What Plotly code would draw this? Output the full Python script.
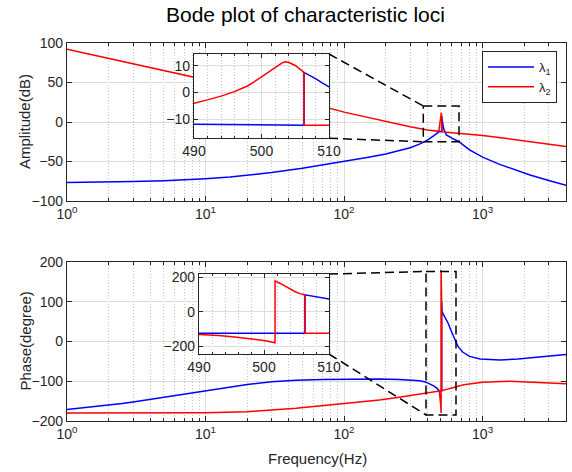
import plotly.graph_objects as go
import math

# ---------------- data ----------------
# Magnitude (dB)
mag_f1 = [1, 1.5, 2, 3, 5, 7, 10, 15, 20, 30, 50, 70, 100, 150, 200, 250, 300, 350, 400, 440, 465, 478, 484,
          490, 495, 500, 504, 506.3, 506.3, 507, 508, 509, 510, 515, 520, 530, 548, 600, 675, 800, 1000,
          1300, 1700, 2200, 3000, 4000]
mag_l1 = [-76.5, -76.3, -76, -75.4, -74.3, -73.2, -71.7, -69.5, -67.5, -64, -58.5, -54.5, -49.5, -44.5, -40.5,
          -36.5, -32.5, -28, -23, -18, -14.5, -12.5, -11.8,
          -11.9, -12.0, -12.1, -12.2, -12.3, 7.5, 6.6, 5.2, 3.6, 2.1, -2.5, -6, -11, -16.4, -20.5, -25, -35, -44.5,
          -53, -60.5, -67, -74, -80]

mag_f2 = [1, 2, 3, 5, 10, 20, 30, 50, 100, 150, 200, 300, 400, 450, 478, 484, 486, 488, 490, 492, 494, 496, 498,
          500, 501, 502, 503, 503.5, 504, 505, 506, 506.3, 506.3, 510, 550, 700, 1000, 1500, 2000, 3000, 4000]
mag_l2 = [92, 80.5, 74, 65.5, 54, 42, 35.5, 26.5, 12.5, 5.5, 0.5, -6, -10, -11.2, -11.7, -11.8, -7.3, -5.7, -4.1,
          -2.8, -1.4, 0.3, 2.5, 5.8, 7.6, 9.5, 11, 11.5, 11.3, 10.1, 8.3, 7.5, -12.3, -12.5, -13, -14.5, -17,
          -21, -24, -28, -31]

# Phase (degree)
ph_f1 = [1, 1.5, 2, 2.5, 3, 4, 5, 6.5, 8, 10, 15, 20, 30, 45, 70, 100, 180, 250, 315, 350, 380, 400, 440, 470,
         486, 490, 495, 500, 504, 506.3, 506.3, 507, 508, 509, 510, 520, 533, 564, 596, 630, 665, 718, 805, 961,
         1330, 1800, 2310, 3000, 4000]
ph_l1 = [-171, -165, -160, -156, -152, -145.5, -140, -133, -128, -123, -114, -108, -101.5, -97.5, -95.5,
         -94.5, -94.5, -95.5, -97, -99, -101.5, -104, -111, -118,
         -124.3, -124.2, -124.1, -124, -124, -123.9, 99, 94.5, 88, 81, 75, 69, 62, 46, 25, 4, -12.5, -26.5, -37.5,
         -44, -46.5, -44, -40, -36.5, -33]

ph_f2 = [1, 3, 5, 10, 20, 45, 100, 180, 250, 395, 450, 486, 488, 490, 493, 495.5, 498, 500.2, 501.7, 501.7,
         502.5, 503.3, 504, 504.8, 505.5, 506.3, 506.3, 510, 540, 600, 730, 1000, 1560, 2310, 3000, 4000]
ph_l2 = [-180, -180, -179.5, -179, -176.5, -168, -156, -147, -140, -130.5, -127, -124.5, -128, -132, -138, -146,
         -158, -168, -180, 180, 165, 148, 132, 117, 106, 99, -124, -123.8, -121, -117, -109, -102.5, -100,
         -102.5, -104.5, -106]

series_names = ["λ<sub>1</sub>", "λ<sub>2</sub>"]
x_tickvals = [1, 10, 100, 1000]
x_ticktext = ["10<sup>0</sup>", "10<sup>1</sup>", "10<sup>2</sup>", "10<sup>3</sup>"]
x_minor = [m * d for d in (1, 10, 100, 1000) for m in range(2, 10) if m * d <= 4000]

# ---------------- styling ----------------
BLUE, RED = "#0000FF", "#FF0000"
AX = "#262626"
GRID = "#dedede"
MGRID = "#c4c4c4"
FONT = "Liberation Sans, Arial, sans-serif"
LW = 1.5

fig = go.Figure()

def add(x, y, xa, ya, color, name, show):
    fig.add_trace(go.Scatter(x=x, y=y, mode="lines", line=dict(color=color, width=LW),
                             name=name, showlegend=show, xaxis=xa, yaxis=ya, hoverinfo="skip"))

# main magnitude
add(mag_f1, mag_l1, "x", "y", BLUE, series_names[0], True)
add(mag_f2, mag_l2, "x", "y", RED, series_names[1], True)
# main phase
add(ph_f1, ph_l1, "x2", "y2", BLUE, series_names[0], False)
add(ph_f2, ph_l2, "x2", "y2", RED, series_names[1], False)
# insets
add(mag_f1, mag_l1, "x3", "y3", BLUE, series_names[0], False)
add(mag_f2, mag_l2, "x3", "y3", RED, series_names[1], False)
add(ph_f1, ph_l1, "x4", "y4", BLUE, series_names[0], False)
add(ph_f2, ph_l2, "x4", "y4", RED, series_names[1], False)

tickfont = dict(family=FONT, size=14, color=AX)

def logx(domain, anchor):
    return dict(domain=domain, anchor=anchor, type="log", range=[0, math.log10(4000)],
                tickmode="array", tickvals=x_tickvals, ticktext=x_ticktext,
                ticks="inside", ticklen=5, tickcolor=AX, tickwidth=1,
                showline=True, linecolor=AX, linewidth=1.2, mirror="allticks",
                showgrid=True, gridcolor=GRID, gridwidth=1, zeroline=False,
                tickfont=tickfont, automargin=False,
                minor=dict(tickmode="array", tickvals=x_minor, ticks="inside", ticklen=3,
                           tickcolor=AX, showgrid=True, gridcolor=MGRID, griddash="1px,2px", gridwidth=1))

def liny(domain, anchor, rng, tv, tl=5):
    return dict(domain=domain, anchor=anchor, range=rng, tickmode="array", tickvals=tv,
                ticks="inside", ticklen=tl, tickcolor=AX, showline=True, linecolor=AX, linewidth=1.2,
                mirror="allticks", showgrid=True, gridcolor=GRID, gridwidth=1, zeroline=False,
                tickfont=tickfont, automargin=False)

def insetx(domain, anchor):
    return dict(domain=domain, anchor=anchor, range=[490, 510], tickmode="array", tickvals=[490, 500, 510],
                ticks="inside", ticklen=4, tickcolor=AX, showline=True, linecolor=AX, linewidth=1.2,
                mirror="allticks", showgrid=True, gridcolor=GRID, zeroline=False, tickfont=tickfont,
                automargin=False,
                minor=dict(dtick=2, tick0=490, ticks="inside", ticklen=2, tickcolor=AX,
                           showgrid=True, gridcolor=MGRID, griddash="1px,2px"))

W, H = 572, 472
L, R, T, B = 67, 6, 43, 51
PW, PH = W - L - R, H - T - B

def px(xp):
    return (xp - L) / PW

def py(yp):
    return (H - B - yp) / PH

fig.update_layout(
    width=W, height=H, autosize=False,
    margin=dict(l=L, r=R, t=T, b=B, pad=0),
    paper_bgcolor="white", plot_bgcolor="white",
    xaxis=logx([0, 1], "y"),
    yaxis=liny([py(201), 1], "x", [-100, 100], [-100, -50, 0, 50, 100]),
    xaxis2=logx([0, 1], "y2"),
    yaxis2=liny([0, py(262)], "x2", [-200, 200], [-200, -100, 0, 100, 200]),
    xaxis3=insetx([px(194), px(329)], "y3"),
    yaxis3=liny([py(138.3), py(54)], "x3", [-17.2, 14.4], [-10, 0, 10], 4),
    xaxis4=insetx([px(199), px(329)], "y4"),
    yaxis4=liny([py(354), py(274)], "x4", [-245, 220], [-200, 0, 200], 4),
    showlegend=True,
    legend=dict(x=px(482), y=py(51), xanchor="left", yanchor="top",
                bgcolor="white", bordercolor=AX, borderwidth=1, itemwidth=46,
                entrywidth=38, entrywidthmode="pixels",
                font=dict(family=FONT, size=13, color=AX), tracegroupgap=0),
)

# dashed zoom rectangles and connectors (paper coordinates)
dash = dict(color="black", width=1.5, dash="9px,5px")
shapes = []
def seg(x0, y0, x1, y1):
    shapes.append(dict(type="line", xref="paper", yref="paper", x0=px(x0), y0=py(y0), x1=px(x1), y1=py(y1),
                       line=dash, layer="above"))
def rect(x0, y0, x1, y1):
    shapes.append(dict(type="rect", xref="paper", yref="paper", x0=px(x0), y0=py(y0), x1=px(x1), y1=py(y1),
                       line=dash, layer="above"))
rect(423.3, 106, 459, 141.7)
seg(329, 54, 423.3, 106)
seg(329, 138.3, 423.3, 141.7)
rect(426, 271.5, 456, 415)
seg(329, 274, 426, 271.5)
seg(329, 354, 426, 415)
fig.update_layout(shapes=shapes)

lab = dict(family=FONT, size=15, color=AX)
fig.add_annotation(text="Amplitude(dB)", xref="paper", yref="paper", x=px(25), y=py(122),
                   textangle=-90, showarrow=False, font=lab, xanchor="center", yanchor="middle")
fig.add_annotation(text="Phase(degree)", xref="paper", yref="paper", x=px(25), y=py(341.5),
                   textangle=-90, showarrow=False, font=lab, xanchor="center", yanchor="middle")
fig.add_annotation(text="Frequency(Hz)", xref="paper", yref="paper", x=px(317), y=py(458),
                   showarrow=False, font=lab, xanchor="center", yanchor="middle")
fig.add_annotation(text="Bode plot of characteristic loci", xref="paper", yref="paper", x=px(305.5), y=py(15),
                   showarrow=False, font=dict(family=FONT, size=21, color="black"),
                   xanchor="center", yanchor="middle")

fig.write_html("out.html",
               config={"displayModeBar": False},
               post_script="document.body.style.margin='0px';document.body.style.overflow='hidden';")
